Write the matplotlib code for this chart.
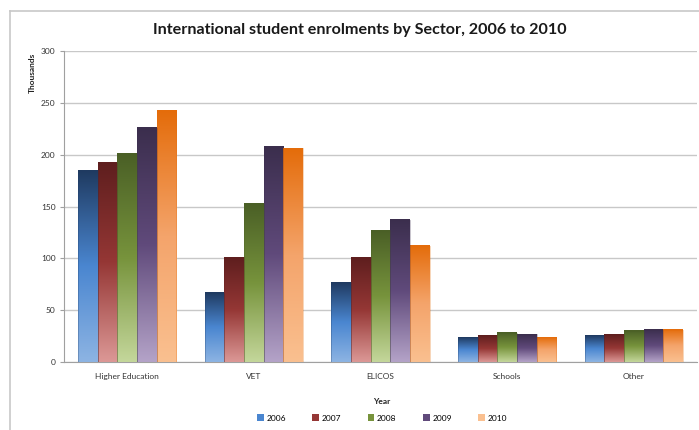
import numpy as np
import matplotlib
matplotlib.use("Agg")
import matplotlib.pyplot as plt
from matplotlib.colors import LinearSegmentedColormap
from matplotlib.patches import Rectangle
from matplotlib.lines import Line2D

plt.rcParams['font.family'] = ['Lato', 'DejaVu Sans']

sectors = ["Higher Education", "VET", "ELICOS", "Schools", "Other"]
years = ["2006", "2007", "2008", "2009", "2010"]
v2006 = [185, 67, 77, 24, 26]
v2007 = [192, 101, 101, 26, 27]
v2008 = [201, 153, 127, 28, 30]
v2009 = [226, 208, 137, 27, 31]
v2010 = [243, 206, 112, 24, 31]
series = [v2006, v2007, v2008, v2009, v2010]

# bottom -> middle -> top colours of the excel style gradient
grads = [
    ("#8db4e3", "#4a86d0", "#1f3a60"),
    ("#dc9896", "#953735", "#5e1e1e"),
    ("#c4d79b", "#77933c", "#4a5f26"),
    ("#b4a3c8", "#604a7b", "#3b2e4d"),
    ("#fac090", "#f4a46b", "#e46c0a"),
]
legend_cols = ["#4a86d0", "#953735", "#77933c", "#604a7b", "#fac090"]

fig = plt.figure(figsize=(6.99, 4.30), dpi=100)
# outer chart frame (top and left edges are visible)
fig.add_artist(Line2D([10 / 699, 10 / 699], [0, 1 - 11 / 430], color="#c8c8c8", lw=1.2))
fig.add_artist(Line2D([10 / 699, 1], [1 - 11 / 430, 1 - 11 / 430], color="#c8c8c8", lw=1.2))

ax = fig.add_axes([64 / 699, 1 - 362 / 430, (697 - 64) / 699, (362 - 51) / 430])

x = np.arange(len(sectors))
w = 0.155
grad = np.linspace(0, 1, 256).reshape(-1, 1)
for i, vals in enumerate(series):
    cmap = LinearSegmentedColormap.from_list("g%d" % i, list(grads[i]))
    for j, v in enumerate(vals):
        x0 = x[j] + (i - 2) * w - w / 2
        ax.imshow(grad, cmap=cmap, extent=[x0, x0 + w, 0, v], origin="lower",
                  aspect="auto", zorder=3)
        ax.add_patch(Rectangle((x0, 0), w, v, fill=False, ec=grads[i][2],
                               lw=0.4, alpha=0.5, zorder=4))

ax.set_xlim(-0.5, len(sectors) - 0.5)
ax.set_ylim(0, 300)
ax.set_yticks(range(0, 301, 50))
ax.set_xticks(x)
ax.set_xticklabels(sectors)
ax.tick_params(axis="y", length=3, color="#a0a0a0", labelsize=6, pad=3, labelcolor="#333333")
ax.tick_params(axis="x", length=0, labelsize=6, pad=8, labelcolor="#333333")
ax.grid(axis="y", color="#c8c8c8", lw=1.0, zorder=0)
for s in ["top", "right"]:
    ax.spines[s].set_visible(False)
ax.spines["left"].set_color("#a0a0a0")
ax.spines["bottom"].set_color("#a0a0a0")

fig.text(360 / 699, 1 - 30 / 430, "International student enrolments by Sector, 2006 to 2010",
         ha="center", va="center", fontsize=11.6, fontweight="bold", color="#1a1a1a")
fig.text(32 / 699, 1 - 53 / 430, "Thousands", rotation=90, ha="center", va="top",
         fontsize=6, fontweight="bold", color="#222222")
fig.text(382 / 699, 1 - 402 / 430, "Year", ha="center", va="center",
         fontsize=6, fontweight="bold", color="#222222")

handles = [Rectangle((0, 0), 1, 1, fc=c, ec="none") for c in legend_cols]
fig.legend(handles, years, loc="center", bbox_to_anchor=(382 / 699, 1 - 418 / 430),
           ncol=5, frameon=False, fontsize=6, handlelength=0.8, handleheight=0.8,
           handletextpad=0.3, columnspacing=3.2)

fig.savefig("out.png", dpi=100)
